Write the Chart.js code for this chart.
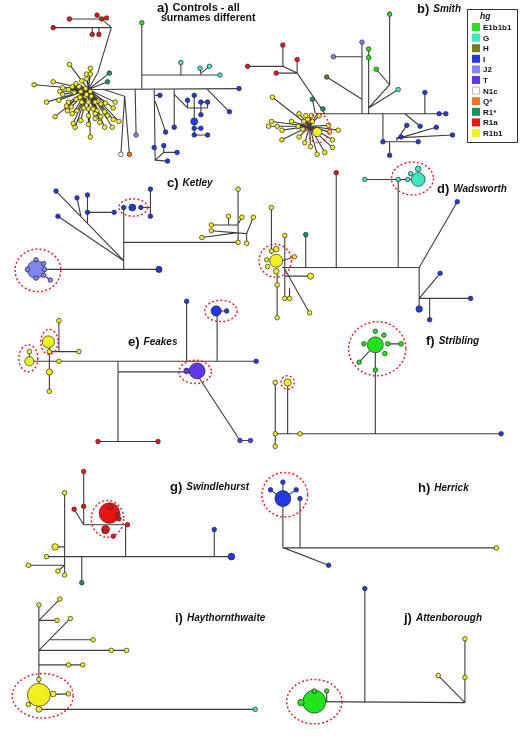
<!DOCTYPE html>
<html>
<head>
<meta charset="utf-8">
<script src="https://cdn.jsdelivr.net/npm/chart.js@4"></script>
<style>
  html, body { margin: 0; padding: 0; background: #fff; }
  canvas { display: block; }
</style>
</head>
<body>
<canvas id="net" width="520" height="738"></canvas>
<script>
// haplogroups, in legend order
var hgLabels = ['E1b1b1', 'G', 'H', 'I', 'J2', 'T', 'N1c', 'Q*', 'R1*', 'R1a', 'R1b1'];

// panel titles
var panelLetters = ['a)', 'b)', 'c)', 'd)', 'e)', 'f)', 'g)', 'h)', 'i)', 'j)'];
var panelNames = ['Controls - all', 'Smith', 'Ketley', 'Wadsworth', 'Feakes', 'Stribling',
  'Swindlehurst', 'Herrick', 'Haythornthwaite', 'Attenborough'];
var panelSubtitle = 'surnames different';

// nodes: [x, y, haplogroup, count] ; edges: polylines of [x, y]
// a) controls
var aNodes = [
  [60,7,'R1a'],[89,3,'R1a'],[94,7,'R1a'],[99,6,'R1a'],[43,16,'R1a'],[84,23,'R1a'],[91,23,'R1a'],
  [102,63,'R1*'],[100,72,'R1*'],
  [136,11,'E1b1b1'],
  [177,52,'G'],[197,58,'G'],[207,56,'G'],[218,65,'G'],
  [238,79,'I'],[228,103,'I'],
  [130,127,'J2'],[114,147,'N1c'],[123,147,'Q*'],
  [155,86,'I'],[161,124,'I'],[149,140,'I'],[159,138,'I'],[173,145,'I'],[163,154,'I'],
  [170,119,'I'],[184,91,'I'],[191,86,'I'],[198,93,'I'],[205,93,'I'],[198,106,'I'],[191,113,'I',2.3],
  [191,120,'I'],[198,120,'I'],[191,127,'I'],[205,127,'I']
];
var aEdges = [
  [[60,7],[94,7],[104,16]], [[89,3],[94,7]], [[94,7],[99,6]],
  [[43,16],[104,16]], [[84,16],[84,23]], [[91,16],[91,23]],
  [[104,16],[90,62],[80,80]],
  [[80,80],[102,63]], [[80,80],[100,72]],
  [[80,80],[238,79]],
  [[136,11],[136,79]], [[136,65],[218,65]], [[177,52],[177,65]], [[197,58],[198,63],[207,56]], [[198,63],[198,65]],
  [[204,79],[228,103]],
  [[129,79],[130,127]],
  [[96,80],[118,87],[114,147]], [[118,87],[123,147]],
  [[149,79],[150,153],[163,154]], [[150,86],[155,86]], [[150,92],[161,124]], [[150,153],[159,145],[159,138]], [[159,145],[173,145]],
  [[170,79],[170,119]], [[170,85],[184,99],[205,99]], [[184,91],[184,99]], [[191,86],[191,127],[205,127]],
  [[198,93],[205,93],[205,99]], [[198,93],[198,106]], [[191,120],[198,120]]
];
var aHub = [80,80];
var aTips = [
  [60,54],[82,58],[78,64],[82,64],[78,69],[43,72],[23,75],[73,71],[67,74],[53,78],[50,82],[53,85],[59,80],
  [63,77],[70,77],[77,79],[82,82],[36,93],[49,91],[59,93],[67,90],[71,88],[77,87],[83,87],[90,92],[93,95],
  [98,94],[108,93],[106,99],[45,108],[58,102],[63,105],[68,102],[75,99],[80,100],[85,100],[89,102],[97,103],
  [100,107],[106,111],[112,113],[64,115],[66,119],[72,112],[80,107],[80,116],[87,110],[92,114],[97,119],
  [105,119],[82,129],[57,97],[62,98],[73,93],[80,93],[87,93],[65,83],[72,82],[78,85],[87,105],[93,108]
];
var aRings = [];

// b) Smith
var bNodes = [
  [247,56,'R1a'],[284,34,'R1a'],[299,49,'R1a'],[277,63,'R1a'],
  [315,90,'R1*'],[326,100,'R1*'],
  [330,67,'H'],[367,31,'J2'],[337,46,'J2'],
  [374,38,'E1b1b1'],[374,47,'E1b1b1'],[382,59,'E1b1b1'],[396,2,'E1b1b1'],[405,80,'G'],
  [433,83,'I'],[448,105,'I'],[455,105,'I'],
  [396,148,'I'],[389,134,'I'],[426,134,'I'],[428,118,'I'],[414,117,'I'],[408,129,'I'],[445,119,'I'],[462,127,'I'],
  [320,124,'R1b1',4]
];
var bEdges = [
  [[247,56],[284,56]], [[284,34],[284,56],[299,63]], [[299,49],[299,63]], [[277,63],[299,63]],
  [[299,63],[328,105]],
  [[315,90],[318,105]],
  [[330,67],[367,90]], [[367,31],[367,105]], [[337,46],[367,46]],
  [[374,38],[374,105]], [[374,99],[396,75],[382,59]], [[396,2],[396,75]], [[374,99],[405,80]],
  [[312,118],[320,105],[455,105]],
  [[433,83],[433,105]],
  [[412,105],[428,118]],
  [[389,105],[389,134],[426,134]], [[396,134],[396,148]],
  [[403,133],[414,117]], [[403,131],[445,119]], [[403,130],[462,127]]
];
var bHub = [312,118];
var bTips = [
  [273,88],[301,105],[308,107],[314,107],[322,107],[293,113],[272,113],[269,118],[278,118],[283,122],
  [283,132],[300,118],[301,129],[307,135],[313,139],[320,147],[328,145],[336,140],[336,132],[333,124],
  [342,122],[332,117],[310,111],[315,113],[305,121],[306,113]
];
var bRings = [[321,120,12,15]];

// c) Ketley
var cNodes = [
  [25,266,'J2',15],[25,256,'J2'],[33,260,'J2'],[34,266,'J2'],[33,272,'J2'],[25,275,'J2'],[16,266,'J2'],[40,277,'J2'],
  [154,266,'I',1.8],
  [46,185,'I'],[48,211,'I'],[68,192,'I'],[79,189,'I'],[79,207,'I'],[107,207,'I'],
  [117,202,'I'],[126,202,'I',2.3],[135,202,'I'],[145,183,'I'],[145,211,'I'],
  [237,183,'R1b1'],[227,211,'R1b1'],[241,212,'R1b1'],[253,212,'R1b1'],[209,220,'R1b1'],[209,226,'R1b1'],
  [199,233,'R1b1'],[237,238,'R1b1'],[246,239,'R1b1']
];
var cEdges = [
  [[25,266],[154,266]], [[33,272],[40,277]],
  [[117,266],[117,202]], [[117,238],[237,238]],
  [[117,257],[46,185]], [[117,257],[48,211]], [[68,192],[72,211]], [[79,189],[79,218]], [[79,207],[107,207]],
  [[135,202],[145,202]], [[145,183],[145,211]],
  [[237,183],[237,238]], [[227,211],[227,220]], [[209,220],[237,220]], [[209,226],[246,229]],
  [[199,233],[237,228]], [[253,212],[246,229],[246,239]], [[241,212],[237,219]]
];
var cRings = [[27,267,24,22],[127,202,15,9]];

// d) Wadsworth
var dNodes = [
  [340,166,'R1a'],
  [370,173,'G'],[405,173,'G'],[415,173,'G'],[426,173,'G',9],[418,167,'G'],[426,162,'G',1.5],
  [467,196,'I'],[427,307,'I',2],[449,270,'I'],[481,296,'I'],[438,318,'I'],
  [308,230,'R1*'],
  [277,257,'R1b1',8],[272,202,'R1b1'],[286,231,'R1b1'],[277,245,'R1b1',1.5],[272,247,'R1b1'],[267,256,'R1b1'],
  [268,263,'R1b1'],[277,268,'R1b1',1.5],[296,253,'R1b1'],[313,273,'R1b1',1.8],[278,282,'R1b1'],[278,316,'R1b1'],
  [286,296,'R1b1'],[291,296,'R1b1'],[312,311,'R1b1']
];
var dEdges = [
  [[283,264],[427,264]], [[340,166],[340,264]], [[405,173],[405,264]], [[370,173],[426,173]],
  [[427,264],[467,196]], [[427,264],[427,307]], [[427,296],[449,270]], [[427,296],[481,296]], [[438,296],[438,318]],
  [[308,230],[308,264]],
  [[272,202],[272,250]], [[286,231],[286,296]], [[285,264],[312,311]], [[278,270],[278,316]],
  [[286,273],[313,273]], [[291,285],[291,296]], [[296,253],[283,257]]
];
var dRings = [[276,257,17,17],[420,172,22,17]];

// e) Feakes
var eNodes = [
  [256,361,'I'],
  [18,361,'R1b1',4],[18,351,'R1b1'],
  [38,341,'R1b1',7],[39,351,'R1b1'],[39,372,'R1b1',1.8],[39,392,'R1b1'],[49,361,'R1b1'],[49,319,'R1b1'],[70,351,'R1b1'],
  [90,444,'R1a'],[153,444,'R1a'],
  [194,371,'T',12],[183,371,'T',1.5],
  [183,299,'I'],[214,309,'I',5],[225,309,'I'],
  [239,443,'T'],[250,443,'T']
];
var eEdges = [
  [[18,361],[256,361]], [[18,361],[18,351]],
  [[39,341],[39,392]], [[49,319],[49,351]], [[39,351],[70,351]],
  [[111,361],[111,444]], [[90,444],[153,444]], [[111,372],[194,372]],
  [[183,299],[183,361]], [[215,361],[215,309],[225,309]],
  [[196,378],[239,443],[250,443]]
];
var eRings = [[17,358,10,14],[39,341,9,13],[192,372,17,12],[219,309,17,11]];

// f) Stribling
var fNodes = [
  [513,436,'I'],
  [276,436,'R1b1'],[276,449,'R1b1'],[276,383,'R1b1'],[302,436,'R1b1'],[289,383,'R1b1',2.5],
  [381,344,'E1b1b1',12],[381,370,'E1b1b1'],[381,330,'E1b1b1'],[390,334,'E1b1b1'],[369,343,'E1b1b1'],
  [394,343,'E1b1b1'],[408,343,'E1b1b1'],[391,353,'E1b1b1'],[364,362,'E1b1b1']
];
var fEdges = [
  [[276,436],[513,436]], [[276,383],[276,449]], [[289,383],[289,436]],
  [[381,344],[381,436]], [[394,343],[408,343]], [[381,344],[364,362]]
];
var fRings = [[289,383,7,7],[383,348,30,28]];

// g) Swindlehurst
var gNodes = [
  [230,563,'I',2.2],[212,535,'I'],
  [55,497,'R1b1'],[45,553,'R1b1',2],[36,563,'R1b1'],[17,572,'R1b1'],[48,578,'R1b1'],[55,582,'R1b1'],
  [73,590,'R1*'],
  [75,475,'R1a'],[75,511,'R1a'],[65,514,'R1a'],
  [102,518,'R1a',20],[98,535,'R1a',3],[103,512,'R1a'],[111,520,'R1a'],[112,524,'R1a'],[121,530,'R1a'],
  [97,537,'R1a'],[106,542,'R1a']
];
var gEdges = [
  [[36,563],[230,563]], [[212,535],[212,563]],
  [[55,497],[55,582]], [[45,553],[55,553]], [[17,572],[55,572]], [[48,578],[55,572]],
  [[73,563],[73,590]],
  [[119,563],[119,531]], [[75,530],[121,530]], [[75,475],[75,530]], [[65,514],[75,530]]
];
var gRings = [[100,524,17,19]];

// h) Herrick
var hNodes = [
  [284,503,'I',12],[284,486,'I'],[271,494,'I'],[298,494,'I'],[302,503,'I'],
  [508,554,'R1b1'],[332,572,'I']
];
var hEdges = [
  [[284,486],[284,554],[508,554]], [[271,494],[284,503]], [[298,494],[284,503]],
  [[302,503],[302,554]], [[285,554],[332,572]]
];
var hRings = [[286,499,24,23]];

// i) Haythornthwaite
var iNodes = [
  [28,613,'R1b1'],[50,607,'R1b1'],[47,629,'R1b1'],[61,627,'R1b1'],[85,649,'R1b1'],[104,660,'R1b1'],
  [120,660,'R1b1'],[59,675,'R1b1'],[74,675,'R1b1'],
  [28,706,'R1b1',25],[28,690,'R1b1'],[43,705,'R1b1',1.6],[59,705,'R1b1'],[17,716,'R1b1'],[28,721,'R1b1',1.6],
  [255,721,'G']
];
var iEdges = [
  [[28,613],[28,721],[255,721]], [[28,629],[50,607]], [[28,629],[47,629]], [[28,660],[61,627]],
  [[40,649],[85,649]], [[28,660],[120,660]], [[28,675],[74,675]], [[28,706],[59,705]], [[28,706],[17,716]]
];
var iRings = [[32,707,32,23]];

// j) Attenborough
var jNodes = [
  [317,713,'E1b1b1',25],[303,714,'E1b1b1',2],[317,702,'E1b1b1'],[330,702,'E1b1b1'],
  [370,596,'I'],
  [475,648,'R1b1'],[475,688,'R1b1'],[447,686,'R1b1']
];
var jEdges = [
  [[317,713],[475,714]], [[330,702],[330,714]], [[370,596],[370,714]], [[475,648],[475,714]], [[447,686],[475,714]]
];
var jRings = [[317,713,29,23]];

// ---- styles ----
var hgColors = {
  'E1b1b1': '#22e41e', 'G': '#3fe6c2', 'H': '#6f7c1c', 'I': '#1f3ae0', 'J2': '#7f86f2',
  'T': '#6036ea', 'N1c': '#ffffff', 'Q*': '#f2761e', 'R1*': '#1c8f6c', 'R1a': '#ea1414', 'R1b1': '#f2f01e'
};
var titlePos = [[157,12],[417,13],[167,187],[437,193],[128,346],[426,345],[170,491],[418,492],[175,622],[404,622]];
var FONT = '"Liberation Sans", Arial, sans-serif';

function rad(n) { return 2.3 * Math.sqrt(n || 1); }

var panels = [
  { nodes: aNodes, edges: aEdges, hub: aHub, tips: aTips, rings: aRings },
  { nodes: bNodes, edges: bEdges, hub: bHub, tips: bTips, rings: bRings },
  { nodes: cNodes, edges: cEdges, rings: cRings },
  { nodes: dNodes, edges: dEdges, rings: dRings },
  { nodes: eNodes, edges: eEdges, rings: eRings },
  { nodes: fNodes, edges: fEdges, rings: fRings },
  { nodes: gNodes, edges: gEdges, rings: gRings },
  { nodes: hNodes, edges: hEdges, rings: hRings },
  { nodes: iNodes, edges: iEdges, rings: iRings },
  { nodes: jNodes, edges: jEdges, rings: jRings }
];

var datasets = [];
panels.forEach(function(p) {
  var line = [];
  p.edges.forEach(function(poly) {
    poly.forEach(function(pt) { line.push({ x: pt[0], y: pt[1] }); });
    line.push({ x: poly[poly.length - 1][0], y: null });
  });
  var pts = [];
  if (p.tips) {
    p.tips.forEach(function(t) {
      line.push({ x: p.hub[0], y: p.hub[1] }, { x: t[0], y: t[1] }, { x: t[0], y: null });
      pts.push({ x: t[0], y: t[1], hg: 'R1b1', n: 1 });
    });
  }
  p.nodes.forEach(function(n) { pts.push({ x: n[0], y: n[1], hg: n[2], n: n[3] || 1 }); });
  // big nodes first so small ones stay visible
  pts.sort(function(u, v) { return v.n - u.n; });
  datasets.push({
    data: line, showLine: true, spanGaps: false, pointRadius: 0,
    borderColor: '#3d3d3d', borderWidth: 1.1, order: 2, clip: false
  });
  datasets.push({
    data: pts, order: 1, clip: false,
    pointRadius: function(c) { return c.raw ? rad(c.raw.n) : 0; },
    backgroundColor: function(c) { return c.raw ? hgColors[c.raw.hg] : '#000'; },
    borderColor: '#2a2a2a', borderWidth: 0.7
  });
});

var netDecor = {
  id: 'netDecor',
  afterDatasetsDraw: function(chart) {
    var ctx = chart.ctx, xs = chart.scales.x, ys = chart.scales.y;
    ctx.save();
    // dashed red rings
    ctx.strokeStyle = '#e3262c';
    ctx.lineWidth = 1.5;
    ctx.setLineDash([2, 2.2]);
    panels.forEach(function(p) {
      p.rings.forEach(function(r) {
        var cx = xs.getPixelForValue(r[0]), cy = ys.getPixelForValue(r[1]);
        var rx = Math.abs(xs.getPixelForValue(r[0] + r[2]) - cx);
        var ry = Math.abs(ys.getPixelForValue(r[1] + r[3]) - cy);
        ctx.beginPath();
        ctx.ellipse(cx, cy, rx, ry, 0, 0, Math.PI * 2);
        ctx.stroke();
      });
    });
    ctx.setLineDash([]);

    // panel titles
    ctx.fillStyle = '#111';
    ctx.textBaseline = 'alphabetic';
    ctx.textAlign = 'left';
    titlePos.forEach(function(pos, k) {
      ctx.font = 'bold 13px ' + FONT;
      ctx.fillText(panelLetters[k], pos[0], pos[1]);
      var w = ctx.measureText(panelLetters[k]).width;
      ctx.font = (k === 0 ? 'bold 11px ' : 'italic bold 10px ') + FONT;
      ctx.fillText(panelNames[k], pos[0] + w + 4, pos[1] - 1);
    });
    ctx.font = 'bold 10.5px ' + FONT;
    ctx.fillText(panelSubtitle, 161, 21);

    // legend
    ctx.strokeStyle = '#333';
    ctx.lineWidth = 1;
    ctx.strokeRect(467.5, 9.5, 50, 133);
    ctx.font = 'italic bold 8.5px ' + FONT;
    ctx.fillText('hg', 480, 19);
    ctx.font = 'bold 8px ' + FONT;
    hgLabels.forEach(function(lab, k) {
      var cy = 27 + k * 10.6;
      ctx.fillStyle = hgColors[lab];
      ctx.fillRect(472, cy - 4, 8, 8);
      if (lab === 'N1c') { ctx.strokeStyle = '#bbb'; ctx.strokeRect(472.5, cy - 3.5, 7, 7); }
      ctx.fillStyle = '#111';
      ctx.fillText(lab, 483, cy + 3);
    });
    ctx.restore();
  }
};

new Chart(document.getElementById('net'), {
  type: 'scatter',
  data: { datasets: datasets },
  options: {
    responsive: false,
    animation: false,
    events: [],
    layout: { padding: 0 },
    scales: {
      x: { type: 'linear', min: 0, max: 520, display: false },
      y: { type: 'linear', min: 0, max: 738, reverse: true, display: false }
    },
    plugins: { legend: { display: false }, tooltip: { enabled: false } }
  },
  plugins: [netDecor]
});
</script>
</body>
</html>
